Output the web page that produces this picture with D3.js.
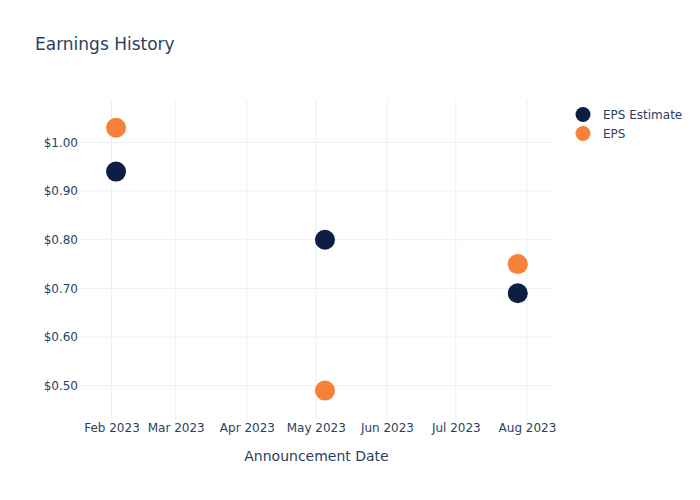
<!DOCTYPE html>
<html><head><meta charset="utf-8">
<script src="https://cdn.jsdelivr.net/npm/d3@7"></script>
<style>body{margin:0;background:#fff}text{font-family:"DejaVu Sans",verdana,arial,sans-serif}</style>
</head><body><svg id="c" width="700" height="500"></svg>
<script>
const dates = ["2023-02-03","2023-05-05","2023-07-28"];
const epsEstimate = [0.94, 0.80, 0.69];
const eps = [1.03, 0.49, 0.75];
const yTicks = [0.5, 0.6, 0.7, 0.8, 0.9, 1.0];
const xTickDates = ["2023-02-01","2023-03-01","2023-04-01","2023-05-01","2023-06-01","2023-07-01","2023-08-01"];
const seriesNames = ["EPS Estimate", "EPS"];
const colors = ["#0c1f43", "#f7803a"];

const svg = d3.select("#c");
const L = 80, R = 553, T = 100, B = 420;
const parse = d3.utcParse("%Y-%m-%d");
const x = d3.scaleUtc()
  .domain([new Date(Date.UTC(2023,0,18,7)), new Date(Date.UTC(2023,7,12,8))])
  .range([L, R]);
const y = d3.scaleLinear().domain([0.4296, 1.0871]).range([B, T]);
const ink = "#2a3f5f", grid = "#ebf0f8";

svg.append("g").selectAll("line").data(xTickDates).join("line")
  .attr("x1", d => x(parse(d))).attr("x2", d => x(parse(d)))
  .attr("y1", T).attr("y2", B).attr("stroke", grid).attr("stroke-width", 1);
svg.append("g").selectAll("line").data(yTicks).join("line")
  .attr("x1", L).attr("x2", R)
  .attr("y1", d => y(d)).attr("y2", d => y(d)).attr("stroke", grid).attr("stroke-width", 1);

const xAxis = d3.axisBottom(x).tickValues(xTickDates.map(parse))
  .tickFormat(d3.utcFormat("%b %Y")).tickSize(0).tickPadding(3);
const gx = svg.append("g").attr("transform", `translate(0,${B})`).call(xAxis);
gx.select(".domain").remove();
gx.selectAll("text").attr("fill", ink).style("font-size", "12px");

const yAxis = d3.axisLeft(y).tickValues(yTicks)
  .tickFormat(d => "$" + d3.format(".2f")(d)).tickSize(0).tickPadding(2);
const gy = svg.append("g").attr("transform", `translate(${L},0)`).call(yAxis);
gy.select(".domain").remove();
gy.selectAll("text").attr("fill", ink).style("font-size", "12px");

const series = [epsEstimate, eps];
series.forEach((vals, i) => {
  svg.append("g").selectAll("circle").data(vals).join("circle")
    .attr("cx", (d, j) => x(parse(dates[j])))
    .attr("cy", d => y(d))
    .attr("r", 10)
    .attr("fill", colors[i]);
});

svg.append("text").attr("x", 35).attr("y", 50).text("Earnings History")
  .attr("fill", ink).style("font-size", "17px");

svg.append("text").attr("x", (L + R) / 2).attr("y", 461).attr("text-anchor", "middle")
  .text("Announcement Date").attr("fill", ink).style("font-size", "14px");

const lg = svg.append("g");
seriesNames.forEach((n, i) => {
  lg.append("circle").attr("cx", 583).attr("cy", 114.5 + i * 19).attr("r", 7.5).attr("fill", colors[i]);
  lg.append("text").attr("x", 603).attr("y", 114.5 + i * 19).attr("dy", "0.35em")
    .text(n).attr("fill", ink).style("font-size", "12px");
});
</script></body></html>
